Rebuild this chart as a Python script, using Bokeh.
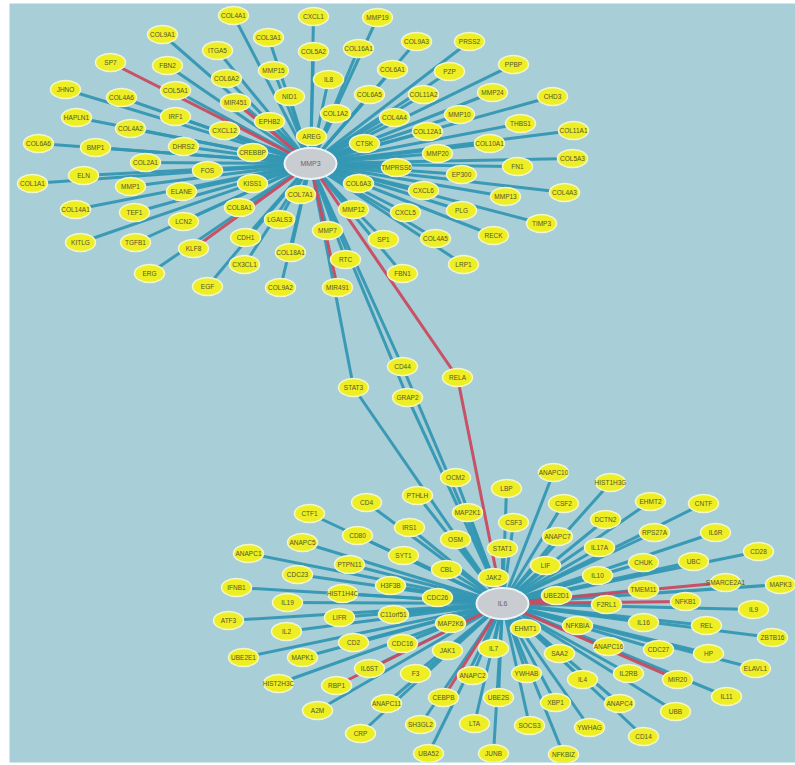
from bokeh.plotting import figure
from bokeh.models import ColumnDataSource, Range1d
from bokeh.embed import file_html
from bokeh.resources import INLINE
from bokeh.core.properties import value

# Hub genes and their layout positions (layout units, y grows downward)
hub_names = ["MMP3", "IL6"]
hub_x = [310, 502]
hub_y = [163, 603]

# Genes linked to MMP3
mmp3_genes = ["COL4A1", "COL9A1", "COL3A1", "ITGA5", "SP7", "FBN2", "MMP15", "COL6A2", "COL5A1",
              "JHNO", "COL4A6", "NID1", "MIR451", "HAPLN1", "IRF1", "EPHB2", "COL4A2", "CXCL12",
              "COL6A6", "BMP1", "DHRS2", "CREBBP", "CXCL1", "MMP19", "COL16A1", "COL5A2", "COL9A3",
              "PRSS2", "IL8", "COL6A1", "PZP", "PPBP", "COL6A5", "COL11A2", "MMP24", "CHD3",
              "COL1A2", "COL4A4", "MMP10", "THBS1", "COL11A1", "AREG", "COL12A1", "CTSK", "COL10A1",
              "MMP20", "COL5A3", "TMPRSS6", "FN1", "EP300", "COL6A3", "CXCL6", "MMP13", "COL4A3",
              "COL7A1", "MMP12", "CXCL5", "PLG", "TIMP3", "MMP7", "SP1", "COL4A5", "RECK", "RTC",
              "FBN1", "LRP1", "MIR491", "COL18A1", "COL2A1", "COL1A1", "ELN", "FOS", "MMP1", "KISS1",
              "ELANE", "COL14A1", "TEF1", "COL8A1", "LCN2", "LGALS3", "KITLG", "TGFB1", "KLF8",
              "CDH1", "ERG", "CX3CL1", "EGF", "COL9A2"]
mmp3_x = [233, 162, 268, 217, 110, 167, 273, 226, 175,
          65, 121, 289, 235, 76, 175, 269, 130, 224,
          38, 95, 183, 252, 313, 377, 358, 313, 416,
          469, 328, 392, 449, 513, 369, 423, 492, 552,
          335, 394, 459, 520, 573, 311, 427, 364, 489,
          437, 572, 396, 517, 461, 358, 423, 505, 564,
          300, 353, 405, 461, 541, 327, 383, 435, 493, 345,
          402, 463, 337, 290, 145, 32, 83, 207, 130, 252,
          181, 75, 134, 239, 183, 279, 80, 135, 193,
          245, 149, 244, 207, 280]
mmp3_y = [15, 34, 37, 50, 62, 65, 70, 78, 90,
          89, 97, 96, 102, 117, 116, 121, 128, 130,
          143, 147, 146, 152, 16, 17, 48, 51, 41,
          41, 79, 69, 71, 64, 94, 94, 92, 96,
          113, 117, 114, 123, 130, 136, 131, 143, 143,
          153, 158, 167, 166, 174, 183, 190, 196, 192,
          194, 209, 212, 210, 223, 230, 239, 238, 235, 259,
          273, 264, 287, 252, 162, 183, 175, 170, 186, 183,
          191, 209, 212, 207, 221, 219, 242, 242, 248,
          237, 273, 264, 286, 287]
mmp3_red = ["SP7", "MIR451", "KLF8", "MIR491"]

# Genes linked to IL6
il6_genes = ["OCM2", "LBP", "ANAPC10", "PTHLH", "CD4", "CTF1", "MAP2K1", "IRS1", "CD80", "ANAPC5",
             "OSM", "SYT1", "ANAPC1", "PTPN11", "CBL", "STAT1", "JAK2", "CDC23", "H3F3B", "IFNB1",
             "HIST1H4C", "CDC26", "IL19", "C11orf51", "LIFR", "ATF3", "MAP2K6", "IL2", "CD2", "CDC16",
             "JAK1", "UBE2E1", "MAPK1", "IL6ST", "F3", "ANAPC2", "HIST2H3C", "RBP1", "A2M", "ANAPC11",
             "CEBPB", "IL7", "UBE2S", "CRP", "SH3GL2", "LTA", "UBA52", "JUNB", "UBE2D1", "TMEM11",
             "SMARCE2A1", "MAPK3", "F2RL1", "NFKB1", "IL9", "EHMT1", "NFKBIA", "IL16", "REL", "ZBTB16",
             "ANAPC16", "SAA2", "CDC27", "HP", "ELAVL1", "YWHAB", "IL2RB", "MIR20", "IL4", "IL11",
             "XBP1", "ANAPC4", "UBB", "SOCS3", "YWHAG", "CD14", "NFKBIZ", "HIST1H3G", "CSF2", "EHMT2",
             "CNTF", "CSF3", "DCTN2", "RPS27A", "IL6R", "ANAPC7", "IL17A", "CD28", "CHUK", "UBC",
             "LIF", "IL10"]
il6_x = [455, 506, 553, 417, 366, 309, 467, 409, 357, 302,
         455, 403, 248, 349, 446, 502, 493, 297, 390, 236,
         342, 437, 287, 393, 339, 228, 450, 286, 353, 402,
         447, 243, 302, 369, 415, 472, 278, 336, 317, 386,
         443, 493, 498, 360, 420, 474, 428, 493, 556, 643,
         725, 780, 606, 685, 753, 525, 577, 643, 706, 772,
         608, 559, 658, 708, 755, 526, 628, 677, 582, 726,
         555, 619, 675, 529, 589, 643, 563, 610, 563, 650,
         703, 513, 605, 654, 715, 557, 599, 758, 643, 693,
         545, 597]
il6_y = [477, 488, 472, 495, 502, 513, 512, 527, 535, 542,
         539, 555, 553, 564, 569, 548, 577, 574, 585, 587,
         593, 597, 602, 614, 617, 620, 623, 631, 642, 643,
         650, 657, 657, 668, 673, 675, 683, 685, 710, 703,
         697, 648, 697, 733, 724, 723, 753, 753, 595, 589,
         582, 584, 604, 601, 609, 628, 625, 622, 625, 637,
         646, 653, 649, 653, 668, 673, 673, 679, 679, 696,
         702, 703, 711, 725, 727, 736, 754, 482, 503, 501,
         503, 522, 519, 532, 532, 536, 547, 551, 562, 561,
         565, 575]
il6_red = ["RBP1", "CEBPB", "SMARCE2A1", "NFKB1", "MIR20"]

# Genes linked to both hubs
bridge_genes = ["STAT3", "CD44", "GRAP2", "RELA"]
bridge_x = [353, 402, 407, 457]
bridge_y = [387, 366, 397, 377]
bridge_red = ["RELA"]

BG = "#a8cfd7"
TEAL = "#3497b3"
RED = "#c94a60"
YELLOW = "#eeee24"

pos = {}
for names, xs, ys in ((hub_names, hub_x, hub_y), (mmp3_genes, mmp3_x, mmp3_y),
                      (il6_genes, il6_x, il6_y), (bridge_genes, bridge_x, bridge_y)):
    for n, x, y in zip(names, xs, ys):
        pos[n] = (x, y)

edges = [("MMP3", g, g in mmp3_red) for g in mmp3_genes]
edges += [("IL6", g, g in il6_red) for g in il6_genes]
for g in bridge_genes:
    edges.append(("MMP3", g, g in bridge_red))
    edges.append(("IL6", g, g in bridge_red))


def edge_source(selected):
    return ColumnDataSource(dict(
        x0=[pos[a][0] for a, b, r in selected], y0=[pos[a][1] for a, b, r in selected],
        x1=[pos[b][0] for a, b, r in selected], y1=[pos[b][1] for a, b, r in selected],
    ))


teal_edges = edge_source([e for e in edges if not e[2]])
red_edges = edge_source([e for e in edges if e[2]])

leaf_names = mmp3_genes + il6_genes + bridge_genes
leaf_src = ColumnDataSource(dict(
    name=leaf_names,
    x=[pos[n][0] for n in leaf_names],
    y=[pos[n][1] for n in leaf_names],
))
hub_src = ColumnDataSource(dict(name=hub_names, x=hub_x, y=hub_y))

p = figure(width=795, height=765, output_backend="svg", toolbar_location=None,
           x_range=Range1d(9, 795), y_range=Range1d(762, 3),
           min_border_left=9, min_border_right=0, min_border_top=3, min_border_bottom=3)
p.axis.visible = False
p.grid.visible = False
p.outline_line_color = None
p.background_fill_color = BG
p.border_fill_color = "white"

# links: teal first, red ones on top
p.segment("x0", "y0", "x1", "y1", source=teal_edges,
          line_color=TEAL, line_width=3, line_alpha=0.95)
p.segment("x0", "y0", "x1", "y1", source=red_edges,
          line_color=RED, line_width=3, line_alpha=0.95)

# gene nodes and the two hubs
p.ellipse("x", "y", width=30, height=18, source=leaf_src,
          fill_color=YELLOW, line_color="#f4f6c8", line_width=1.5)
p.ellipse("x", "y", width=52, height=31, source=hub_src,
          fill_color="#c9ccd0", line_color="#e9f5f8", line_width=2)

p.text("x", "y", text="name", source=leaf_src, text_align="center", text_baseline="middle",
       text_font=value("Liberation Sans"), text_font_size="6.5px", text_color="#55552a")
p.text("x", "y", text="name", source=hub_src, text_align="center", text_baseline="middle",
       text_font=value("Liberation Sans"), text_font_size="7px", text_color="#666670")

open("out.html", "w").write(file_html(p, INLINE))
